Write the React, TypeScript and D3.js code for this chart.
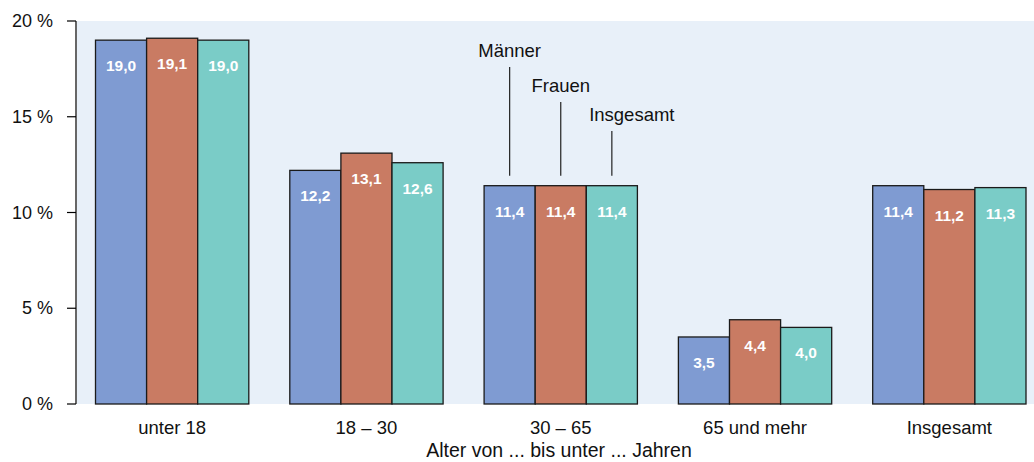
import React from "react";
import * as d3 from "d3";

const categories = ["unter 18", "18 – 30", "30 – 65", "65 und mehr", "Insgesamt"];
const seriesNames = ["Männer", "Frauen", "Insgesamt"];
const maenner = [19.0, 12.2, 11.4, 3.5, 11.4];
const frauen = [19.1, 13.1, 11.4, 4.4, 11.2];
const insgesamt = [19.0, 12.6, 11.4, 4.0, 11.3];
const yTicks = [0, 5, 10, 15, 20];
const xTitle = "Alter von ... bis unter ... Jahren";

const seriesValues = [maenner, frauen, insgesamt];
const colors = ["#7F9BD2", "#C97B63", "#7ACCC7"];

const W = 1034;
const H = 462;
const plotTop = 21;
const plotBottom = 404;
const plotLeft = 77;
const FONT = "'Liberation Sans', Arial, Helvetica, sans-serif";

export default function App() {
  const y = d3.scaleLinear().domain([0, 20]).range([plotBottom, plotTop]);
  const x0 = d3
    .scaleBand<string>()
    .domain(categories)
    .range([plotLeft - 2, plotLeft - 2 + 971.5])
    .paddingInner(0.211)
    .paddingOuter(0.1055);
  const x1 = d3
    .scaleBand<string>()
    .domain(seriesNames)
    .range([0, x0.bandwidth()])
    .padding(0);
  const fmt = (v: number) => v.toFixed(1).replace(".", ",");

  // annotation (legend) in group "30 – 65"
  const annCat = categories[2];
  const annLabelY = [57, 92, 121];
  const annLabelDx = [0, 0, 20];

  return (
    <svg
      width={W}
      height={H}
      style={{ position: "absolute", left: 0, top: 0, display: "block" }}
      fontFamily={FONT}
    >
      <rect x={plotLeft} y={plotTop} width={W - plotLeft} height={plotBottom - plotTop} fill="#E8F0F9" />
      {/* bars */}
      {categories.map((c, ci) => (
        <g key={c} transform={`translate(${x0(c)},0)`}>
          {seriesNames.map((s, si) => {
            const v = seriesValues[si][ci];
            return (
              <g key={s}>
                <rect
                  x={x1(s)}
                  y={y(v)}
                  width={x1.bandwidth()}
                  height={y(0) - y(v)}
                  fill={colors[si]}
                  stroke="#1a1a1a"
                  strokeWidth={1.3}
                />
                <text
                  x={(x1(s) as number) + x1.bandwidth() / 2}
                  y={y(v) + 31}
                  textAnchor="middle"
                  fill="#ffffff"
                  fontWeight="bold"
                  fontSize={15.5}
                >
                  {fmt(v)}
                </text>
              </g>
            );
          })}
        </g>
      ))}
      {/* annotation legend */}
      {seriesNames.map((s, si) => {
        const cx = (x0(annCat) as number) + (x1(s) as number) + x1.bandwidth() / 2;
        const v = seriesValues[si][2];
        return (
          <g key={s}>
            <line x1={cx} x2={cx} y1={annLabelY[si] + 10} y2={y(v) - 10} stroke="#222" strokeWidth={1.2} />
            <text x={cx + annLabelDx[si]} y={annLabelY[si]} textAnchor="middle" fontSize={18.5} fill="#111">
              {s}
            </text>
          </g>
        );
      })}
      {/* y axis */}
      <line x1={plotLeft - 1} x2={plotLeft - 1} y1={plotTop} y2={plotBottom} stroke="#000" strokeWidth={1.2} />
      {yTicks.map((t) => (
        <g key={t}>
          <line x1={plotLeft - 10} x2={plotLeft - 1} y1={y(t)} y2={y(t)} stroke="#000" strokeWidth={1.2} />
          <text x={53} y={y(t) + 6} textAnchor="end" fontSize={18} fill="#111">
            {`${t} %`}
          </text>
        </g>
      ))}
      {/* x labels */}
      {categories.map((c) => (
        <text
          key={c}
          x={(x0(c) as number) + x0.bandwidth() / 2}
          y={434}
          textAnchor="middle"
          fontSize={18.5}
          fill="#111"
        >
          {c}
        </text>
      ))}
      <text x={559} y={457} textAnchor="middle" fontSize={19.5} fill="#111">
        {xTitle}
      </text>
    </svg>
  );
}
